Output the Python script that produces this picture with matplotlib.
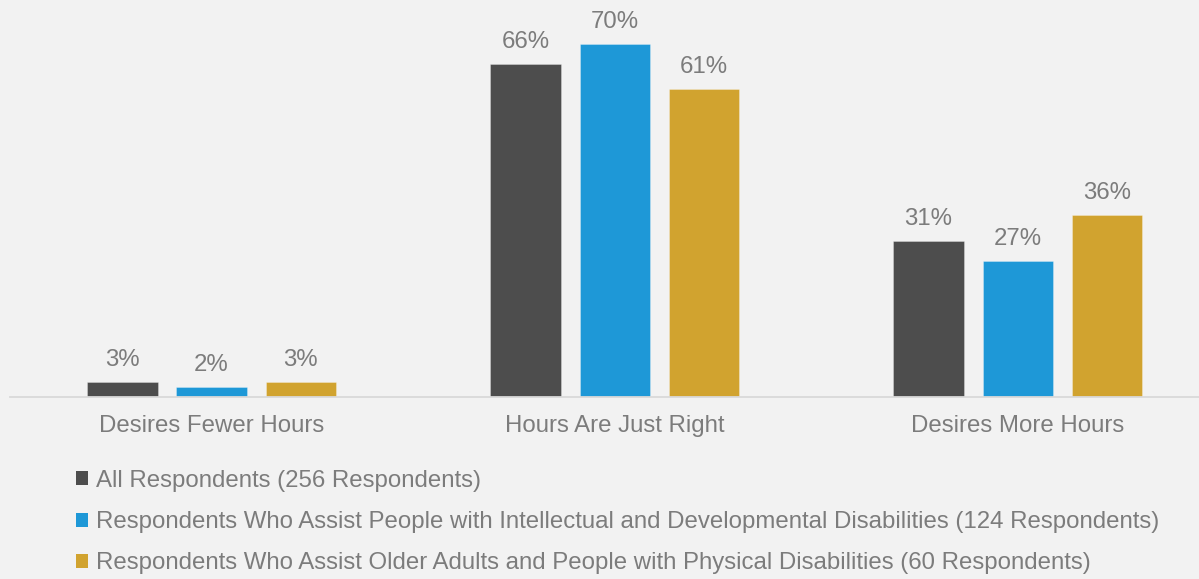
import matplotlib.pyplot as plt
from matplotlib.patches import Patch
import numpy as np

plt.rcParams['font.family'] = ['Liberation Sans', 'DejaVu Sans']

categories = ["Desires Fewer Hours", "Hours Are Just Right", "Desires More Hours"]
series_names = [
    "All Respondents (256 Respondents)",
    "Respondents Who Assist People with Intellectual and Developmental Disabilities (124 Respondents)",
    "Respondents Who Assist Older Adults and People with Physical Disabilities (60 Respondents)",
]
all_resp = [3, 66, 31]
idd_resp = [2, 70, 27]
older_resp = [3, 61, 36]

colors = ["#4d4d4d", "#1e98d7", "#d1a32f"]
bg = "#f2f2f2"
text_gray = "#7c7c7c"
fs = 17.3

fig = plt.figure(figsize=(11.99, 5.79), dpi=100, facecolor=bg)
ax = fig.add_axes([10 / 1199, 182 / 579, 1189 / 1199, 397 / 579], facecolor=bg)

x = np.arange(len(categories))
width = 0.174
offset = 0.221
for i, (vals, c) in enumerate(zip([all_resp, idd_resp, older_resp], colors)):
    bars = ax.bar(x + (i - 1) * offset, vals, width, color=c,
                  edgecolor="#ffffff55", linewidth=0.6)
    for b, v in zip(bars, vals):
        ax.text(b.get_x() + b.get_width() / 2, v + 2.2, f"{v}%",
                ha="center", va="bottom", fontsize=fs, color=text_gray)

ax.set_xlim(-0.5, 2.45)
ax.set_ylim(0, 78.7)
ax.set_yticks([])
ax.set_xticks(x)
ax.set_xticklabels(categories, fontsize=fs, color=text_gray)
ax.tick_params(axis="x", length=0, pad=13)
for s in ["top", "right", "left"]:
    ax.spines[s].set_visible(False)
ax.spines["bottom"].set_color("#d9d9d9")
ax.spines["bottom"].set_linewidth(1.3)

handles = [Patch(facecolor=c, edgecolor="none") for c in colors]
leg = fig.legend(handles, series_names, loc="upper left",
                 bbox_to_anchor=(76 / 1199, 1 - 470 / 579), frameon=False,
                 fontsize=fs, handlelength=0.52, handleheight=0.52,
                 handletextpad=0.3, labelspacing=0.80, borderpad=0, borderaxespad=0)
for t in leg.get_texts():
    t.set_color(text_gray)

fig.savefig("out.png", dpi=100, facecolor=bg)
